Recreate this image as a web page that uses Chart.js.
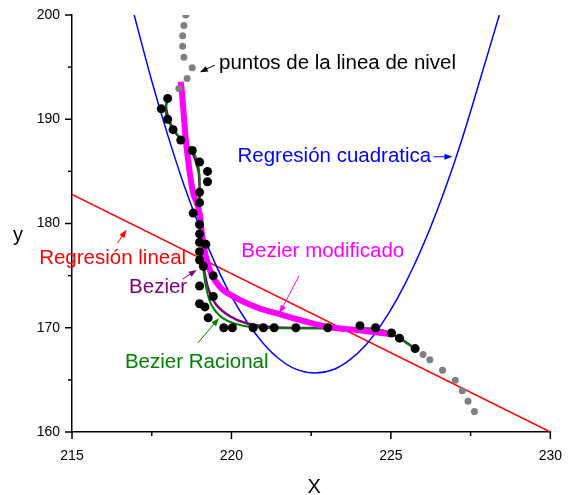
<!DOCTYPE html>
<html>
<head>
<meta charset="utf-8">
<script src="https://cdn.jsdelivr.net/npm/chart.js@4"></script>
<style>
  body { margin: 0; background: #fff; }
</style>
</head>
<body>
<canvas id="grafica" width="571" height="495"></canvas>
<script>
/* --------------- Datos ----------------------------------------- */
// puntos medidos (negros)
const medidos = [
    [218.0, 192.0], [217.8, 191.0], [218.0, 190.0], [218.17, 189.0], [218.41, 188.0],
    [218.77, 187.0], [219.0, 185.9], [219.25, 185.0], [219.25, 184.0], [219.0, 183.0],
    [219.0, 182.0], [218.8, 181.0], [219.0, 179.9], [219.0, 179.0], [219.0, 178.2],
    [219.2, 178.0], [219.0, 177.3], [219.0, 176.5], [219.12, 175.9], [219.43, 175.0],
    [219.0, 174.0], [219.43, 173.0], [219.0, 172.3], [219.17, 172.0], [219.27, 170.95],
    [219.76, 170.0], [220.03, 170.0], [220.68, 170.0], [221.0, 170.0], [221.34, 170.0],
    [222.02, 170.0], [223.02, 170.0], [224.03, 170.2], [224.52, 170.0], [225.02, 169.5],
    [225.27, 169.0], [225.76, 168.0]
];
// puntos de la linea de nivel (grises)
const nivel = [
    [218.57, 200.0], [218.51, 199.0], [218.47, 198.0], [218.47, 197.0], [218.51, 195.95],
    [218.77, 194.95], [218.61, 193.9], [218.35, 192.95],
    [226.01, 167.43], [226.22, 166.92], [226.62, 165.93], [227.02, 164.97], [227.24, 163.95],
    [227.42, 162.96], [227.62, 161.97]
];
const regLineal = [[215, 182.8], [230, 160.0]];
const regCuadratica = [
    [216.95, 200.0], [217.5, 193.7], [218.0, 188.5], [218.5, 183.8], [219.0, 179.7],
    [219.5, 176.1], [220.0, 173.0], [220.5, 170.5], [221.0, 168.5], [221.5, 167.0],
    [222.0, 166.05], [222.62, 165.65], [223.2, 166.0], [223.7, 166.9], [224.2, 168.3],
    [224.7, 170.3], [225.2, 172.8], [225.7, 175.8], [226.2, 179.3], [226.7, 183.3],
    [227.2, 187.8], [227.7, 192.8], [228.4, 200.0]
];
const bezierMod = [
    [218.41, 193.6], [218.45, 192.5], [218.57, 188.0], [218.78, 183.2], [219.0, 181.0],
    [219.11, 178.1], [219.32, 175.55], [219.63, 173.95], [220.16, 172.85], [220.89, 171.85],
    [221.51, 171.3], [222.14, 170.75], [222.98, 170.1], [224.02, 169.75], [224.96, 169.4]
];
const bezierRac = [
    [218.0, 192.0], [217.93, 191.05], [217.98, 190.1], [218.15, 189.1], [218.38, 188.2],
    [218.64, 187.4], [218.85, 186.6], [218.96, 185.6], [219.0, 184.5], [219.0, 183.2],
    [219.0, 181.95], [219.06, 179.1], [219.1, 176.2], [219.2, 173.95], [219.37, 172.2],
    [219.74, 170.9], [220.37, 170.2], [221.3, 169.96], [223.18, 169.96], [224.54, 169.86],
    [224.96, 169.5], [225.27, 169.0], [225.76, 168.0]
];
const bezier = [
    [218.0, 192.0], [217.95, 191.1], [218.1, 189.5], [218.4, 188.1], [218.75, 186.9],
    [218.96, 185.1], [219.0, 183.5], [219.0, 181.6], [219.06, 179.1], [219.12, 176.2],
    [219.25, 174.0], [219.5, 172.3], [219.95, 171.1], [220.5, 170.4], [221.3, 170.05],
    [223.18, 169.96], [224.54, 169.86], [224.96, 169.5], [225.27, 169.0], [225.76, 168.0]
];

const xy = (arr) => arr.map(p => ({ x: p[0], y: p[1] }));

/* --------------- Etiquetas con flecha --------------------- */
const etiquetas = [
    { texto: "puntos de la linea de nivel", color: "#000000", x: 219.61, y: 195.4, flecha: [219.48, 195.2, 219.01, 194.5] },
    { texto: "Regresión cuadratica", color: "#0000ff", x: 220.19, y: 186.4, flecha: [226.34, 186.4, 226.93, 186.4] },
    { texto: "Regresión lineal", color: "#ff0000", x: 213.97, y: 176.7, flecha: [216.42, 178.11, 216.71, 179.39] },
    { texto: "Bezier modificado", color: "#ff00ff", x: 220.31, y: 177.31, flecha: [222.12, 174.98, 221.51, 171.4] },
    { texto: "Bezier", color: "#800080", x: 216.79, y: 173.89, flecha: [218.47, 174.66, 218.91, 175.55] },
    { texto: "Bezier Racional", color: "#008000", x: 216.66, y: 166.66, flecha: [218.94, 168.52, 219.61, 170.92] }
];

const fuente = "'Liberation Sans', Arial, sans-serif";
Chart.defaults.font.family = fuente;

const flecha = (ctx, x1, y1, x2, y2, color) => {
    const ang = Math.atan2(y2 - y1, x2 - x1);
    ctx.strokeStyle = color;
    ctx.fillStyle = color;
    ctx.lineWidth = 1;
    ctx.beginPath();
    ctx.moveTo(x1, y1);
    ctx.lineTo(x2 - 5 * Math.cos(ang), y2 - 5 * Math.sin(ang));
    ctx.stroke();
    ctx.beginPath();
    ctx.moveTo(x2, y2);
    ctx.lineTo(x2 - 8 * Math.cos(ang) + 3 * Math.sin(ang), y2 - 8 * Math.sin(ang) - 3 * Math.cos(ang));
    ctx.lineTo(x2 - 8 * Math.cos(ang) - 3 * Math.sin(ang), y2 - 8 * Math.sin(ang) + 3 * Math.cos(ang));
    ctx.closePath();
    ctx.fill();
};

const extras = {
    id: "extras",
    afterDraw(chart) {
        const ctx = chart.ctx;
        const sx = chart.scales.x, sy = chart.scales.y;
        ctx.save();
        // marcas de los ejes
        ctx.strokeStyle = "#000";
        ctx.lineWidth = 1.5;
        sx.ticks.forEach(t => {
            const px = sx.getPixelForValue(t.value);
            const len = t.value % 5 === 0 ? 7 : 4;
            ctx.beginPath();
            ctx.moveTo(px, sy.bottom);
            ctx.lineTo(px, sy.bottom + len);
            ctx.stroke();
        });
        sy.ticks.forEach(t => {
            const py = sy.getPixelForValue(t.value);
            const len = t.value % 10 === 0 ? 7 : 4;
            ctx.beginPath();
            ctx.moveTo(sx.left - len, py);
            ctx.lineTo(sx.left, py);
            ctx.stroke();
        });
        // titulos
        ctx.fillStyle = "#000";
        ctx.font = "20px " + fuente;
        ctx.textAlign = "center";
        ctx.textBaseline = "middle";
        ctx.fillText("X", (sx.left + sx.right) / 2 + 3, 487);
        ctx.fillText("y", 18, 235);
        // etiquetas
        ctx.font = "20.5px " + fuente;
        ctx.textAlign = "left";
        etiquetas.forEach(e => {
            ctx.fillStyle = e.color;
            ctx.fillText(e.texto, sx.getPixelForValue(e.x), sy.getPixelForValue(e.y));
            const f = e.flecha;
            flecha(ctx, sx.getPixelForValue(f[0]), sy.getPixelForValue(f[1]),
                sx.getPixelForValue(f[2]), sy.getPixelForValue(f[3]), e.color);
        });
        ctx.restore();
    }
};

/* --------------- Grafica --------------------- */
new Chart(document.getElementById("grafica"), {
    type: "scatter",
    plugins: [extras],
    data: {
        datasets: [
            { data: xy(medidos), backgroundColor: "#000", borderColor: "#000", pointRadius: 4.5, pointBorderWidth: 0 },
            { data: xy(nivel), backgroundColor: "#808080", borderColor: "#808080", pointRadius: 3.5, pointBorderWidth: 0 },
            { data: xy(bezierMod), showLine: true, borderColor: "#ff00ff", borderWidth: 6, pointRadius: 0, cubicInterpolationMode: "monotone" },
            { data: xy(bezierRac), showLine: true, borderColor: "#008000", borderWidth: 2, pointRadius: 0, tension: 0.3 },
            { data: xy(bezier), showLine: true, borderColor: "#800080", borderWidth: 2.5, pointRadius: 0, tension: 0.3 },
            { data: xy(regCuadratica), showLine: true, borderColor: "#0000ff", borderWidth: 1.5, pointRadius: 0, cubicInterpolationMode: "monotone" },
            { data: xy(regLineal), showLine: true, borderColor: "#ff0000", borderWidth: 1.5, pointRadius: 0 }
        ]
    },
    options: {
        responsive: false,
        animation: false,
        layout: { padding: { top: 15, right: 20, left: 0, bottom: 0 } },
        plugins: { legend: { display: false }, tooltip: { enabled: false } },
        scales: {
            x: {
                type: "linear",
                min: 215, max: 230,
                afterFit: (s) => { s.height = 63; },
                grid: { display: false, drawTicks: true, tickLength: 7 },
                border: { display: true, color: "#000", width: 1.5 },
                ticks: {
                    stepSize: 2.5, padding: 9, color: "#000", font: { size: 14 },
                    callback: (v) => (v % 5 === 0 ? v : "")
                }
            },
            y: {
                type: "linear",
                min: 160, max: 200,
                afterFit: (s) => { s.width = 72; },
                grid: { display: false, drawTicks: true, tickLength: 7 },
                border: { display: true, color: "#000", width: 1.5 },
                ticks: {
                    stepSize: 5, padding: 5, color: "#000", font: { size: 14 },
                    callback: (v) => (v % 10 === 0 ? v : "")
                }
            }
        }
    }
});
</script>
</body>
</html>
